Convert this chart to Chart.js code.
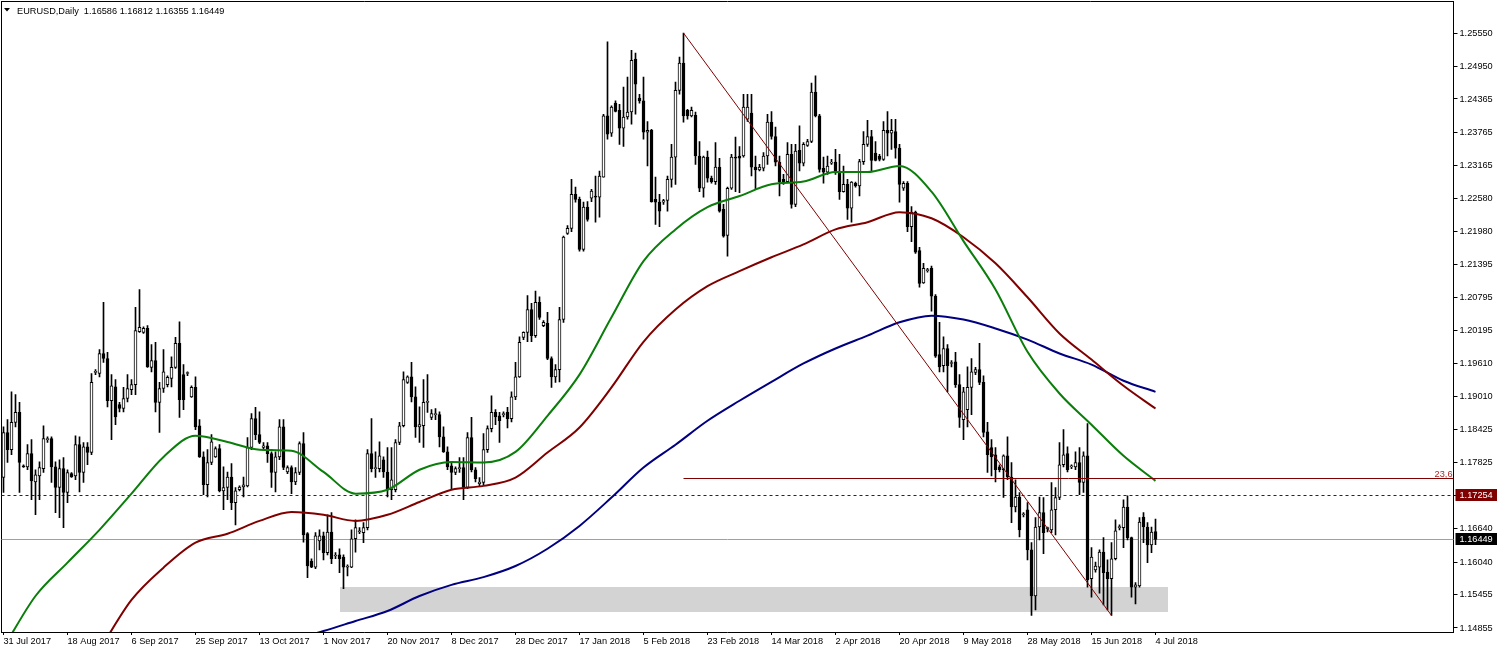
<!DOCTYPE html>
<html>
<head>
<meta charset="utf-8">
<script src="https://cdn.jsdelivr.net/npm/chart.js@4/dist/chart.umd.min.js"></script>
<style>
  html, body { margin: 0; padding: 0; background: #fff; }
  canvas { display: block; }
</style>
</head>
<body>
<canvas id="chart" width="1497" height="651"></canvas>
<script>
// --- DATA ---
const symbolTitle = 'EURUSD,Daily';
const tickLabels = ['31 Jul 2017', '18 Aug 2017', '6 Sep 2017', '25 Sep 2017', '13 Oct 2017', '1 Nov 2017',
    '20 Nov 2017', '8 Dec 2017', '28 Dec 2017', '17 Jan 2018', '5 Feb 2018', '23 Feb 2018', '14 Mar 2018',
    '2 Apr 2018', '20 Apr 2018', '9 May 2018', '28 May 2018', '15 Jun 2018', '4 Jul 2018'];
const barsPerLabel = 16;
const totalSlots = 363; // bars plus the empty shift space on the right

const priceTicks = [1.25550, 1.24950, 1.24365, 1.23765, 1.23165, 1.22580, 1.21980, 1.21395, 1.20795, 1.20195,
    1.19610, 1.19010, 1.18425, 1.17825, 1.17240, 1.16640, 1.16040, 1.15455, 1.14855];
const priceMin = 1.14783;
const priceMax = 1.26126;

const opens = [
    1.1756,1.1837,1.1806,1.1855,1.1873,1.1777,1.1775,1.1799,1.1748,1.1759,
    1.1772,1.1824,1.1826,1.1775,1.1738,1.1772,1.1729,1.1763,1.1759,1.1815,
    1.1765,1.1811,1.1801,1.1945,1.1943,1.1979,1.1970,1.1894,1.1919,1.1887,
    1.1880,1.1898,1.1914,1.1923,1.2018,1.2017,1.2024,1.1954,1.1966,1.1891,
    1.1916,1.1923,1.1934,1.1954,1.1997,1.1941,1.1943,1.1901,1.1918,1.1849,
    1.1793,1.1743,1.1783,1.1793,1.1808,1.1732,1.1738,1.1757,1.1711,1.1734,
    1.1739,1.1741,1.1810,1.1862,1.1833,1.1810,1.1813,1.1799,1.1765,1.1793,
    1.1847,1.1766,1.1774,1.1748,1.1765,1.1817,1.1655,1.1606,1.1595,1.1642,
    1.1651,1.1621,1.1658,1.1615,1.1617,1.1613,1.1595,1.1595,1.1646,1.1658,
    1.1657,1.1666,1.1799,1.1772,1.1772,1.1788,1.1766,1.1734,1.1734,1.1819,
    1.1849,1.1927,1.1937,1.1901,1.1847,1.1849,1.1891,1.1864,1.1869,1.1869,
    1.1829,1.1802,1.1777,1.1765,1.1772,1.1774,1.1738,1.1828,1.1770,1.1745,
    1.1747,1.1806,1.1844,1.1873,1.1867,1.1869,1.1873,1.1862,1.1901,1.1937,
    1.2008,1.2017,1.2058,1.2011,1.2071,1.2029,1.2033,1.1970,1.1937,1.1950,
    1.2040,1.2195,1.2204,1.2265,1.2256,1.2166,1.2242,1.2258,1.2262,1.2260,
    1.2296,1.2406,1.2375,1.2429,1.2416,1.2384,1.2404,1.2413,1.2508,1.2438,
    1.2433,1.2377,1.2380,1.2256,1.2251,1.2251,1.2254,1.2292,1.2332,1.2452,
    1.2501,1.2416,1.2406,1.2407,1.2334,1.2276,1.2332,1.2294,1.2288,1.2314,
    1.2238,1.2191,1.2276,1.2332,1.2334,1.2334,1.2400,1.2411,1.2314,1.2309,
    1.2312,1.2334,1.2395,1.2369,1.2323,1.2292,1.2288,1.2337,1.2247,1.2344,
    1.2321,1.2353,1.2360,1.2449,1.2406,1.2312,1.2305,1.2321,1.2323,1.2305,
    1.2270,1.2283,1.2240,1.2285,1.2280,1.2324,1.2355,1.2369,1.2339,1.2334,
    1.2328,1.2380,1.2375,1.2378,1.2348,1.2276,1.2285,1.2207,1.2233,1.2164,
    1.2106,1.2128,1.2132,1.2082,1.1977,1.1957,1.1988,1.1961,1.1964,1.1923,
    1.1860,1.1878,1.1918,1.1945,1.1950,1.1927,1.1838,1.1810,1.1797,1.1775,
    1.1770,1.1795,1.1757,1.1703,1.1721,1.1689,1.1698,1.1626,1.1543,1.1667,
    1.1693,1.1664,1.1662,1.1698,1.1720,1.1779,1.1799,1.1775,1.1775,1.1783,
    1.1747,1.1795,1.1574,1.1590,1.1595,1.1622,1.1586,1.1574,1.1610,1.1666,
    1.1666,1.1703,1.1648,1.1559,1.1561,1.1685,1.1667,1.1635,1.16586
];
const highs = [
    1.1847,1.1860,1.1910,1.1905,1.1891,1.1779,1.1815,1.1824,1.1770,1.1784,
    1.1849,1.1829,1.1829,1.1784,1.1788,1.1792,1.1770,1.1765,1.1831,1.1829,
    1.1819,1.1819,1.1943,1.1950,1.1986,1.2071,1.1981,1.1941,1.1932,1.1891,
    1.1918,1.1941,1.1932,1.2062,1.2094,1.2027,1.2029,1.1995,1.1999,1.1927,
    1.1986,1.1939,1.1973,1.2008,1.2036,1.1959,1.1946,1.1921,1.1937,1.1860,
    1.1802,1.1806,1.1833,1.1811,1.1815,1.1775,1.1766,1.1781,1.1738,1.1741,
    1.1757,1.1828,1.1871,1.1882,1.1874,1.1819,1.1819,1.1802,1.1802,1.1860,
    1.1860,1.1777,1.1777,1.1774,1.1820,1.1837,1.1657,1.1610,1.1657,1.1662,
    1.1658,1.1689,1.1693,1.1621,1.1628,1.1617,1.1599,1.1662,1.1680,1.1666,
    1.1675,1.1806,1.1862,1.1802,1.1820,1.1793,1.1810,1.1810,1.1824,1.1855,
    1.1946,1.1939,1.1963,1.1919,1.1883,1.1932,1.1941,1.1878,1.1880,1.1874,
    1.1847,1.1811,1.1783,1.1775,1.1792,1.1792,1.1837,1.1864,1.1774,1.1756,
    1.1835,1.1849,1.1903,1.1878,1.1873,1.1874,1.1882,1.1910,1.1963,1.2009,
    1.2018,1.2083,1.2069,1.2091,1.2081,1.2038,1.2053,1.1973,1.1959,1.2062,
    1.2190,1.2209,1.2292,1.2278,1.2260,1.2251,1.2252,1.2274,1.2298,1.2307,
    1.2409,1.2539,1.2424,1.2433,1.2427,1.2458,1.2476,1.2524,1.2519,1.2445,
    1.2476,1.2396,1.2382,1.2296,1.2265,1.2256,1.2298,1.2355,1.2467,1.2512,
    1.2555,1.2418,1.2422,1.2413,1.2360,1.2334,1.2343,1.2298,1.2358,1.2330,
    1.2247,1.2278,1.2337,1.2368,1.2351,1.2445,1.2445,1.2445,1.2334,1.2319,
    1.2340,1.2409,1.2414,1.2386,1.2334,1.2301,1.2358,1.2355,1.2355,1.2388,
    1.2358,1.2364,1.2465,1.2478,1.2409,1.2332,1.2334,1.2328,1.2346,1.2337,
    1.2316,1.2292,1.2288,1.2287,1.2328,1.2378,1.2398,1.2380,1.2360,1.2337,
    1.2396,1.2414,1.2400,1.2400,1.2355,1.2288,1.2288,1.2243,1.2235,1.2170,
    1.2141,1.2132,1.2136,1.2085,1.2035,1.2009,1.1995,1.1966,1.1981,1.1941,
    1.1918,1.1955,1.1970,1.1954,1.1997,1.1939,1.1855,1.1824,1.1810,1.1779,
    1.1797,1.1829,1.1783,1.1752,1.1729,1.1693,1.1711,1.1639,1.1684,1.1721,
    1.1720,1.1667,1.1747,1.1738,1.1819,1.1842,1.1811,1.1779,1.1802,1.1810,
    1.1802,1.1853,1.1630,1.1604,1.1626,1.1648,1.1608,1.1639,1.1680,1.1671,
    1.1716,1.1723,1.1649,1.1567,1.1684,1.1693,1.1675,1.1667,1.16812
];
const lows = [
    1.1729,1.1783,1.1797,1.1847,1.1729,1.1774,1.1770,1.1716,1.1689,1.1716,
    1.1765,1.1819,1.1747,1.1693,1.1684,1.1666,1.1711,1.1756,1.1752,1.1730,
    1.1747,1.1779,1.1797,1.1941,1.1937,1.1963,1.1883,1.1824,1.1851,1.1874,
    1.1874,1.1892,1.1905,1.1905,1.2017,1.2015,1.1954,1.1946,1.1874,1.1837,
    1.1909,1.1919,1.1919,1.1952,1.1864,1.1878,1.1939,1.1900,1.1842,1.1792,
    1.1725,1.1721,1.1779,1.1792,1.1730,1.1698,1.1716,1.1698,1.1671,1.1732,
    1.1721,1.1739,1.1806,1.1824,1.1817,1.1806,1.1783,1.1738,1.1730,1.1788,
    1.1770,1.1763,1.1727,1.1743,1.1761,1.1640,1.1576,1.1594,1.1592,1.1626,
    1.1608,1.1617,1.1601,1.1610,1.1585,1.1556,1.1579,1.1594,1.1622,1.1655,
    1.1639,1.1662,1.1766,1.1756,1.1766,1.1756,1.1721,1.1716,1.1730,1.1815,
    1.1847,1.1925,1.1892,1.1828,1.1819,1.1810,1.1873,1.1860,1.1860,1.1811,
    1.1801,1.1770,1.1734,1.1761,1.1765,1.1716,1.1736,1.1766,1.1748,1.1741,
    1.1743,1.1801,1.1838,1.1851,1.1819,1.1865,1.1845,1.1856,1.1896,1.1936,
    1.2004,1.2000,1.2000,1.2008,1.2040,1.2027,1.1968,1.1918,1.1927,1.1928,
    1.2035,1.2193,1.2198,1.2251,1.2163,1.2163,1.2217,1.2252,1.2215,1.2224,
    1.2296,1.2364,1.2369,1.2413,1.2355,1.2351,1.2400,1.2391,1.2409,1.2429,
    1.2364,1.2316,1.2251,1.2211,1.2207,1.2247,1.2235,1.2278,1.2283,1.2445,
    1.2395,1.2400,1.2404,1.2319,1.2270,1.2260,1.2287,1.2285,1.2283,1.2233,
    1.2188,1.2154,1.2274,1.2270,1.2268,1.2332,1.2396,1.2298,1.2274,1.2307,
    1.2307,1.2319,1.2364,1.2316,1.2262,1.2283,1.2287,1.2240,1.2243,1.2307,
    1.2316,1.2351,1.2358,1.2404,1.2305,1.2285,1.2301,1.2319,1.2301,1.2256,
    1.2269,1.2220,1.2215,1.2278,1.2262,1.2319,1.2351,1.2307,1.2325,1.2325,
    1.2326,1.2334,1.2346,1.2330,1.2251,1.2272,1.2198,1.2180,1.2159,1.2098,
    1.2105,1.2125,1.2055,1.1972,1.1946,1.1946,1.1910,1.1955,1.1918,1.1846,
    1.1824,1.1847,1.1869,1.1941,1.1923,1.1829,1.1765,1.1759,1.1748,1.1766,
    1.1720,1.1752,1.1675,1.1694,1.1649,1.1685,1.1608,1.1508,1.1518,1.1644,
    1.1619,1.1658,1.1657,1.1653,1.1716,1.1775,1.1766,1.1772,1.1770,1.1725,
    1.1729,1.1559,1.1541,1.1586,1.1548,1.1527,1.1518,1.1508,1.1608,1.1662,
    1.1630,1.1644,1.1541,1.1529,1.1559,1.1639,1.1603,1.1621,1.16355
];
const closes = [
    1.1837,1.1806,1.1855,1.1873,1.1783,1.1775,1.1799,1.1750,1.1761,1.1774,
    1.1826,1.1824,1.1775,1.1738,1.1772,1.1729,1.1765,1.1757,1.1815,1.1765,
    1.1811,1.1801,1.1927,1.1945,1.1979,1.1970,1.1894,1.1921,1.1865,1.1880,
    1.1898,1.1916,1.1923,1.2020,1.2026,1.2024,1.1955,1.1966,1.1891,1.1916,
    1.1946,1.1936,1.1954,1.1997,1.1896,1.1896,1.1943,1.1918,1.1847,1.1793,
    1.1743,1.1783,1.1820,1.1808,1.1732,1.1738,1.1757,1.1711,1.1732,1.1739,
    1.1743,1.1810,1.1862,1.1833,1.1819,1.1813,1.1799,1.1765,1.1793,1.1847,
    1.1774,1.1774,1.1748,1.1765,1.1817,1.1653,1.1597,1.1595,1.1651,1.1651,
    1.1621,1.1658,1.1610,1.1615,1.1610,1.1595,1.1597,1.1646,1.1666,1.1660,
    1.1666,1.1799,1.1772,1.1774,1.1795,1.1766,1.1734,1.1752,1.1819,1.1849,
    1.1932,1.1937,1.1901,1.1847,1.1851,1.1891,1.1891,1.1871,1.1869,1.1829,
    1.1802,1.1775,1.1765,1.1772,1.1774,1.1738,1.1828,1.1770,1.1754,1.1748,
    1.1806,1.1844,1.1873,1.1865,1.1858,1.1871,1.1862,1.1901,1.1937,1.1999,
    1.2017,1.2058,1.2011,1.2071,1.2044,1.2035,1.1970,1.1937,1.1950,1.2040,
    1.2188,1.2204,1.2265,1.2256,1.2166,1.2242,1.2220,1.2271,1.2260,1.2298,
    1.2406,1.2373,1.2422,1.2414,1.2384,1.2404,1.2413,1.2506,1.2463,1.2433,
    1.2377,1.2380,1.2252,1.2251,1.2235,1.2254,1.2292,1.2332,1.2452,1.2501,
    1.2406,1.2406,1.2416,1.2334,1.2276,1.2332,1.2294,1.2288,1.2314,1.2235,
    1.2190,1.2276,1.2332,1.2330,1.2330,1.2422,1.2422,1.2314,1.2309,1.2314,
    1.2334,1.2395,1.2369,1.2323,1.2288,1.2287,1.2337,1.2247,1.2343,1.2321,
    1.2355,1.2360,1.2449,1.2406,1.2310,1.2305,1.2316,1.2323,1.2305,1.2270,
    1.2283,1.2240,1.2287,1.2280,1.2324,1.2355,1.2369,1.2326,1.2326,1.2328,
    1.2380,1.2375,1.2380,1.2348,1.2283,1.2285,1.2207,1.2233,1.2161,1.2105,
    1.2132,1.2128,1.2082,1.1974,1.1955,1.1988,1.1957,1.1961,1.1923,1.1864,
    1.1910,1.1918,1.1946,1.1950,1.1927,1.1837,1.1797,1.1793,1.1770,1.1770,
    1.1795,1.1757,1.1703,1.1721,1.1662,1.1689,1.1626,1.1543,1.1667,1.1693,
    1.1657,1.1664,1.1698,1.1720,1.1779,1.1797,1.1770,1.1775,1.1783,1.1747,
    1.1795,1.1572,1.1613,1.1597,1.1622,1.1585,1.1574,1.1610,1.1660,1.1666,
    1.1703,1.1648,1.1559,1.1563,1.1676,1.1667,1.1635,1.1658,1.16449
];

// moving averages, read every 8th bar
const maStep = 8;
const maGreen = [1.1450,1.1543,1.1603,1.1662,1.1727,1.1793,1.1831,1.1820,1.1806,1.1804,1.1766,1.1727,1.1734,
    1.1770,1.1784,1.1783,1.1802,1.1867,1.1941,1.2044,1.2145,1.2202,1.2242,1.2262,1.2283,1.2288,1.2305,1.2305,
    1.2316,1.2270,1.2181,1.2094,1.1982,1.1907,1.1851,1.1795,1.1750];
const maMaroon = [null,null,null,1.1446,1.1536,1.1594,1.1639,1.1655,1.1678,1.1694,1.1689,1.1678,1.1689,
    1.1712,1.1734,1.1741,1.1756,1.1801,1.1846,1.1918,1.2000,1.2058,1.2100,1.2127,1.2152,1.2175,1.2202,1.2215,
    1.2233,1.2222,1.2188,1.2141,1.2080,1.2015,1.1968,1.1921,1.1880];
const maNavy = [null,null,null,null,null,null,null,null,null,1.1464,1.1480,1.1498,1.1516,1.1543,1.1563,1.1577,
    1.1597,1.1628,1.1669,1.1720,1.1774,1.1815,1.1858,1.1894,1.1928,1.1961,1.1988,1.2011,1.2035,1.2047,1.2040,
    1.2024,1.2004,1.1979,1.1959,1.1930,1.1910];

// objects drawn on the chart
const bidPrice = 1.16449;
const markPrice = 1.17254;
const fibHigh = { bar: 170, price: 1.2555 };
const fibLow = { bar: 277, price: 1.1508 };
const fibRatio = 0.236;
const fibText = '23,6';
const zone = { fromBar: 84, toBar: 291, top: 1.15593, bottom: 1.15143 };

// --- CHART ---
const FONT = '"Liberation Sans", Arial, sans-serif';
const FONT_SIZE = 9.2;
Chart.defaults.font.family = FONT;
Chart.defaults.font.size = FONT_SIZE;
Chart.defaults.color = '#000';

const slotLabels = [];
for (let i = 0; i < totalSlots; i++) slotLabels.push(String(i));

function spread(values) {
    const out = new Array(opens.length).fill(null);
    values.forEach((v, k) => { out[k * maStep] = v; });
    return out;
}

function hline(ctx, area, yPix, color, dash) {
    const yy = Math.round(yPix) + 0.5;
    ctx.strokeStyle = color;
    ctx.lineWidth = 1;
    ctx.setLineDash(dash || []);
    ctx.beginPath();
    ctx.moveTo(area.left, yy);
    ctx.lineTo(area.right, yy);
    ctx.stroke();
    ctx.setLineDash([]);
}

// no label overhang padding: the frame must sit on the canvas edges
function noPad(s) {
    s.paddingTop = 0; s.paddingBottom = 0; s.paddingLeft = 0; s.paddingRight = 0;
}

const overlay = {
    id: 'overlay',
    beforeDatasetsDraw(chart) {
        const { ctx, chartArea: area, scales: { x, y } } = chart;
        ctx.save();
        // grey support zone
        const x0 = x.getPixelForValue(zone.fromBar), x1 = x.getPixelForValue(zone.toBar);
        const y0 = y.getPixelForValue(zone.top), y1 = y.getPixelForValue(zone.bottom);
        ctx.fillStyle = '#d3d3d3';
        ctx.fillRect(Math.round(x0), Math.round(y0), Math.round(x1 - x0), Math.round(y1 - y0));
        // bid line + dashed level
        hline(ctx, area, y.getPixelForValue(bidPrice), '#a0a0a0');
        hline(ctx, area, y.getPixelForValue(markPrice), '#800000', [3, 3]);
        ctx.restore();
    },
    afterDatasetsDraw(chart) {
        const { ctx, chartArea: area, scales: { x, y } } = chart;
        ctx.save();
        // trend line (fibo base)
        ctx.strokeStyle = '#800000';
        ctx.lineWidth = 1;
        ctx.beginPath();
        ctx.moveTo(x.getPixelForValue(fibHigh.bar), y.getPixelForValue(fibHigh.price));
        ctx.lineTo(x.getPixelForValue(fibLow.bar), y.getPixelForValue(fibLow.price));
        ctx.stroke();
        // 23.6 level
        const level = fibLow.price + fibRatio * (fibHigh.price - fibLow.price);
        const ly = Math.round(y.getPixelForValue(level)) + 0.5;
        ctx.beginPath();
        ctx.moveTo(x.getPixelForValue(fibHigh.bar), ly);
        ctx.lineTo(area.right, ly);
        ctx.stroke();
        ctx.fillStyle = '#b22222';
        ctx.font = FONT_SIZE + 'px ' + FONT;
        ctx.textAlign = 'right';
        ctx.textBaseline = 'alphabetic';
        ctx.fillText(fibText, area.right - 1, ly - 2);
        ctx.restore();
    },
    afterDraw(chart) {
        const { ctx, chartArea: area, scales: { y } } = chart;
        ctx.save();
        ctx.font = FONT_SIZE + 'px ' + FONT;
        ctx.textBaseline = 'middle';
        ctx.textAlign = 'left';
        // price boxes on the axis
        [[markPrice, '#800000'], [bidPrice, '#000000']].forEach(([p, bg]) => {
            const py = Math.round(y.getPixelForValue(p));
            ctx.fillStyle = bg;
            ctx.fillRect(area.right + 2, py - 6, chart.width - area.right - 2, 12);
            ctx.fillStyle = '#fff';
            ctx.fillText(p.toFixed(5), area.right + 6, py + 0.5);
        });
        // header
        ctx.fillStyle = '#000';
        ctx.beginPath();
        ctx.moveTo(4, 8); ctx.lineTo(10, 8); ctx.lineTo(7, 11.5); ctx.closePath();
        ctx.fill();
        const n = opens.length - 1;
        const hdr = symbolTitle + '  ' + [opens[n], highs[n], lows[n], closes[n]].map(v => v.toFixed(5)).join(' ');
        ctx.fillText(hdr, 17, 11);
        ctx.restore();
    }
};

new Chart(document.getElementById('chart'), {
    type: 'bar',
    data: {
        labels: slotLabels,
        datasets: [
            {
                label: 'wick',
                data: lows.map((l, i) => [l, highs[i]]),
                backgroundColor: '#000',
                borderWidth: 0,
                barThickness: 1,
                grouped: false,
                order: 3
            },
            {
                label: 'body',
                data: opens.map((o, i) => [o, closes[i]]),
                backgroundColor: closes.map((c, i) => c >= opens[i] ? '#ffffff' : '#000000'),
                borderColor: '#000',
                borderWidth: 1,
                borderSkipped: false,
                barThickness: 3,
                minBarLength: 1,
                grouped: false,
                order: 2
            },
            {
                type: 'line', label: 'MA green', data: spread(maGreen),
                borderColor: '#0a7d0a', borderWidth: 2, pointRadius: 0, spanGaps: true,
                cubicInterpolationMode: 'monotone', order: 1
            },
            {
                type: 'line', label: 'MA maroon', data: spread(maMaroon),
                borderColor: '#800000', borderWidth: 2, pointRadius: 0, spanGaps: true,
                cubicInterpolationMode: 'monotone', order: 1
            },
            {
                type: 'line', label: 'MA navy', data: spread(maNavy),
                borderColor: '#000080', borderWidth: 2, pointRadius: 0, spanGaps: true,
                cubicInterpolationMode: 'monotone', order: 1
            }
        ]
    },
    options: {
        responsive: false,
        animation: false,
        events: [],
        layout: { padding: { left: 1.5, top: 1, right: 0, bottom: 0 } },
        plugins: { legend: { display: false }, tooltip: { enabled: false } },
        scales: {
            x: {
                type: 'category',
                offset: true,
                grid: { drawOnChartArea: false, drawTicks: true, tickLength: 3, offset: false, color: '#000' },
                border: { display: true, color: '#000', width: 1 },
                ticks: {
                    autoSkip: false, maxRotation: 0, minRotation: 0, align: 'start', padding: 1,
                    callback: (v) => tickLabels[v / barsPerLabel] || ''
                },
                afterBuildTicks: (s) => {
                    s.ticks = s.ticks.filter(t => t.value % barsPerLabel === 0 && t.value / barsPerLabel < tickLabels.length);
                },
                afterFit: (s) => { s.height = 19; noPad(s); }
            },
            y: {
                type: 'linear',
                position: 'right',
                min: priceMin,
                max: priceMax,
                grid: { drawOnChartArea: false, drawTicks: true, tickLength: 4, color: '#000' },
                border: { display: true, color: '#000', width: 1 },
                ticks: { padding: 2, callback: (v) => Number(v).toFixed(5) },
                afterBuildTicks: (s) => { s.ticks = priceTicks.map(v => ({ value: v })); },
                afterFit: (s) => { s.width = 43.5; noPad(s); }
            },
            xTop: {
                type: 'category', position: 'top',
                grid: { display: false }, ticks: { display: false },
                border: { display: true, color: '#000', width: 1 },
                afterFit: (s) => { s.height = 0; noPad(s); }
            },
            yLeft: {
                type: 'linear', position: 'left', min: priceMin, max: priceMax,
                grid: { display: false }, ticks: { display: false },
                border: { display: true, color: '#000', width: 1 },
                afterFit: (s) => { s.width = 0; noPad(s); }
            }
        }
    },
    plugins: [overlay]
});
</script>
</body>
</html>
